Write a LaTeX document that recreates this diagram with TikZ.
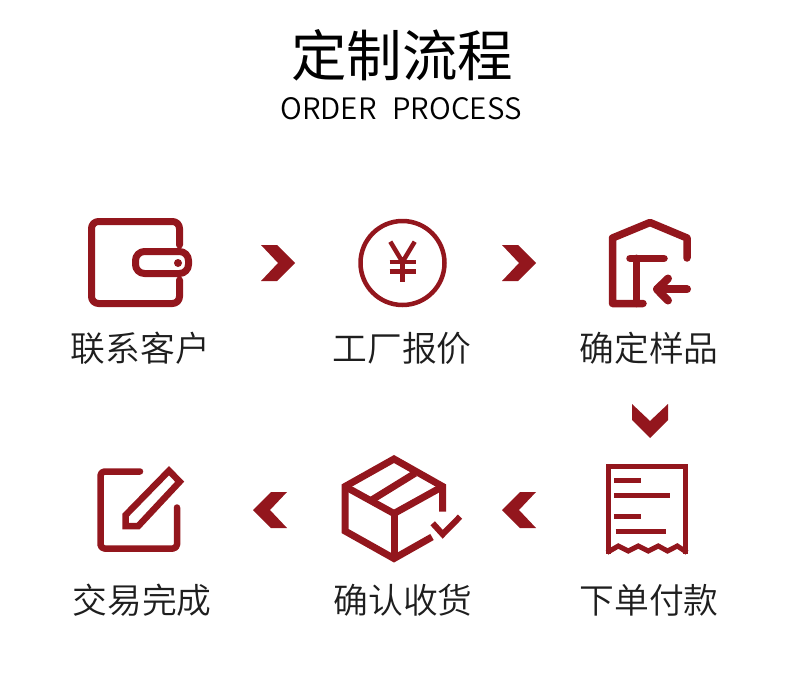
\documentclass[tikz,border=0pt]{standalone}
\usepackage{fontspec}
\newfontfamily\cjk{Noto Sans CJK SC}
\newfontfamily\cjklabel{Noto Sans CJK SC DemiLight}
\newfontfamily\latinsub[WordSpace=2.4]{Noto Sans CJK SC DemiLight}
\definecolor{brand}{HTML}{93161D}
\definecolor{ink}{HTML}{1E1E1E}
\tikzset{
	title/.style={text=black, inner sep=0pt, font=\cjk\fontsize{55.5}{55.5}\selectfont},
	subtitle/.style={text=black, inner sep=0pt, font=\latinsub\fontsize{29.5}{29.5}\selectfont},
	steplabel/.style={text=ink, inner sep=0pt, font=\cjklabel\fontsize{34.8}{34.8}\selectfont},
	icon/.style={draw=brand, line width=#1, line cap=round, line join=round},
	icon/.default=7pt,
	flat/.style={draw=brand, line width=#1, line cap=butt, line join=miter},
	flat/.default=6pt,
	chev/.pic={\fill[brand] (-17,-18) -- (-1,-18) -- (17,0) -- (-1,18) -- (-17,18) -- (0,0) -- cycle;}
}
\begin{document}
\begin{tikzpicture}[x=1pt, y=-1pt]
	\useasboundingbox (0,0) rectangle (790,696);
	\node[title] (head) at (402,55) {定制流程};
	\node[subtitle] (sub) at (401,109) {ORDER PROCESS};
	\node[steplabel] (contact) at (140.5,348) {联系客户};
	\node[steplabel] (quote) at (402,348) {工厂报价};
	\node[steplabel] (sample) at (649,348) {确定样品};
	\node[steplabel] (pay) at (649,600) {下单付款};
	\node[steplabel] (receive) at (403,600) {确认收货};
	\node[steplabel] (done) at (142,600) {交易完成};
	\pic at (278,263) {chev};
	\pic at (519,263) {chev};
	\pic[rotate=-90] at (650,421) {chev};
	\pic[rotate=180] at (519,510) {chev};
	\pic[rotate=180] at (270,510) {chev};
	\draw[icon, rounded corners=7pt] (179.5,245) -- (179.5,221.5) -- (91.5,221.5) -- (91.5,303.5) -- (179.5,303.5) -- (179.5,280);
	\draw[icon, rounded corners=9pt] (135.5,251.5) rectangle (188.5,273.5);
	\fill[brand] (178,263) circle (4);
	\draw[icon=4.5pt] (402.5,263) circle (42);
	\draw[flat=4.5pt] (390.3,241.7) -- (402.5,262) -- (414.7,241.7);
	\draw[flat=4.5pt] (402.5,262) -- (402.5,281.7);
	\draw[flat=4.5pt] (389.5,262) -- (415.5,262);
	\draw[flat=4.5pt] (389.5,271.5) -- (415.5,271.5);
	\draw[icon=7.5pt] (643,303.5) -- (612.5,303.5) -- (612.5,238) -- (650,222.5) -- (687,238) -- (687,258);
	\draw[icon=7.5pt] (630,258.3) -- (664,258.3);
	\draw[icon=7.5pt] (636.7,258.3) -- (636.7,303.5);
	\draw[icon=8pt] (687,289.3) -- (657,289.3);
	\draw[icon=8pt] (668,278.5) -- (657,289.3) -- (668,300.5);
	\draw[flat=5pt] (608.5,553.5) -- (608.5,466.5) -- (685.5,466.5) -- (685.5,553.5);
	\draw[flat=5pt] (607,552.5) -- (618.3,546) -- (628.3,551) -- (638.3,546) -- (648.3,551) -- (658.3,546) -- (667.5,551) -- (677.3,546) -- (687,552.5);
	\draw[flat=5pt] (614.3,480.3) -- (641,480.3);
	\draw[flat=5pt] (614.3,495) -- (670,495);
	\draw[flat=5pt] (614.3,516.7) -- (641,516.7);
	\draw[flat=5pt] (615.7,531) -- (666.3,531);
	\draw[flat=7pt] (442.7,511.7) -- (442.7,486.5) -- (394,459) -- (345,486.5) -- (345,531) -- (394,558.5) -- (432,537);
	\draw[flat=7pt] (345,486.5) -- (394,513.5) -- (442.7,486.5);
	\draw[flat=7pt] (394,513.5) -- (394,558.5);
	\draw[flat=7pt] (371.7,500) -- (415,473.3);
	\draw[flat] (432.7,523.3) -- (442.7,534.3) -- (460,516.7);
	\draw[icon=6.5pt, rounded corners=4pt] (140,471.5) -- (100.5,471.5) -- (100.5,548.5) -- (177,548.5) -- (177,507.5);
	\draw[flat=6.5pt] (169,470.7) -- (179.7,481.7) -- (138.3,526) -- (125.7,526) -- (125.7,515) -- cycle;
\end{tikzpicture}
\end{document}
